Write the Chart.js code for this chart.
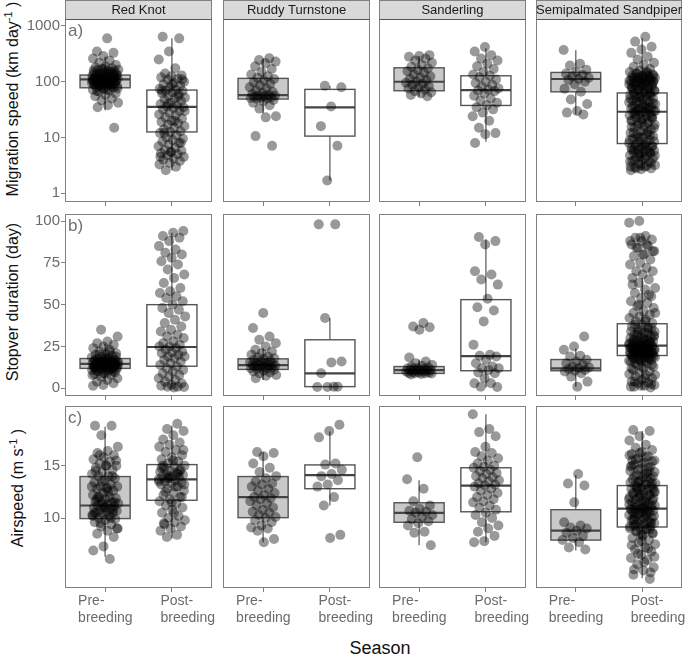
<!DOCTYPE html>
<html>
<head>
<meta charset="utf-8">
<script src="https://cdn.jsdelivr.net/npm/chart.js"></script>
<style>
  body { margin: 0; background: #fff; font-family: "Liberation Sans", Arial, sans-serif; }
  #wrap { position: relative; width: 685px; height: 656px; overflow: hidden; }
  #wrap canvas { position: absolute; }
  .ytitle { position: absolute; transform: translate(-50%, -50%) rotate(-90deg); white-space: nowrap;
            font-size: 16px; line-height: 18px; color: #111; }
  .ytitle sup { font-size: 11px; line-height: 0; }
  #season { position: absolute; left: 380px; top: 648px; transform: translate(-50%, -50%);
            font-size: 18px; color: #111; white-space: nowrap; }
</style>
</head>
<body>
<div id="wrap">
  <div class="ytitle" style="left:13px;top:99px">Migration speed (km day<sup>-1</sup> )</div>
  <div class="ytitle" style="left:13px;top:302px">Stopver duration (day)</div>
  <div class="ytitle" style="left:18px;top:488px">Airspeed (m s<sup>-1</sup> )</div>
  <div id="season">Season</div>
</div>
<script>
const species = ['Red Knot', 'Ruddy Turnstone', 'Sanderling', 'Semipalmated Sandpiper'];
const seasonLabels = [['Pre-', 'breeding'], ['    Post-', '    breeding']];

// box stats per species: [lower whisker, Q1, median, Q3, upper whisker]
const speedBoxPre  = [[31, 78, 110, 132, 280], [27, 49, 57.5, 115, 260], [54, 69, 100, 178, 290], [26, 66, 112, 147, 367]];
const speedBoxPost = [[2.6, 12.6, 35.6, 71, 600], [1.7, 10.6, 34.7, 73, 84], [8.4, 37.6, 71, 128, 398], [2.6, 7.8, 29, 63, 600]];
const stopBoxPre   = [[3.9, 11.9, 14.6, 17.8, 26.7], [5, 11.3, 13.8, 17.6, 23.8], [8, 8.9, 10.9, 13, 17.2], [1, 10.5, 11.9, 17.2, 23.8]];
const stopBoxPost  = [[0, 13.2, 24.7, 50, 93], [1, 1, 8.9, 29, 42], [0.5, 10.5, 19.2, 53, 89], [0, 19.6, 25.5, 38.6, 66]];
const airBoxPre    = [[6.3, 9.95, 11.2, 13.96, 18.7], [7.7, 10.04, 12, 13.96, 16.3], [7.4, 9.6, 10.5, 11.46, 13.6], [6.9, 7.9, 8.8, 10.8, 14.1]];
const airBoxPost   = [[8.05, 11.7, 13.7, 15.1, 18.8], [11.2, 12.8, 14.1, 15.07, 18.25], [7.7, 10.6, 13.1, 14.8, 19.9], [4.25, 9.15, 10.9, 13.1, 18.3]];

// individual birds, migration speed (km/day)
const speedPre = [
  [600, 350, 330, 290, 260, 240, 220, 200, 190, 180, 175, 170, 165, 160, 160, 155, 150, 145, 145, 140, 138, 135, 135, 132, 130, 128, 125, 125, 122, 120, 118, 116, 115, 114, 112, 110, 110, 108, 108, 106, 105, 104, 102, 100, 100, 98, 96, 95, 95, 93, 90, 90, 88, 86, 84, 82, 80, 78, 75, 72, 70, 66, 62, 58, 55, 50, 46, 42, 38, 35, 15,
   170, 160, 150, 140, 130, 125, 120, 115, 112, 108, 104, 100, 96, 92, 88, 84, 80, 76, 72, 68, 140, 120, 105, 95, 85],
  [263, 245, 230, 214, 190, 170, 150, 135, 125, 118, 112, 105, 98, 92, 86, 80, 75, 70, 66, 63, 60, 58, 57, 56, 55, 54, 53, 52, 51, 50, 49, 47, 45, 42, 38, 33, 24, 23, 10.6, 7.1],
  [300, 290, 280, 260, 240, 220, 200, 185, 175, 165, 155, 145, 135, 125, 118, 112, 106, 100, 96, 92, 88, 84, 80, 76, 72, 68, 65, 62, 58, 55],
  [370, 210, 195, 165, 150, 140, 132, 125, 118, 112, 108, 100, 90, 75, 66, 48, 40, 30, 28, 26]
];
const speedPost = [
  [640, 600, 350, 250, 175, 140, 130, 125, 120, 115, 110, 100, 95, 90, 85, 80, 75, 72, 70, 68, 65, 62, 60, 56, 52, 50, 48, 45, 42, 40, 38, 36, 35, 34, 32, 30, 28, 26, 25, 23, 22, 20, 19, 18, 17, 16, 15, 14, 13, 12.5, 12, 11, 10, 9.5, 9, 8.5, 8, 7.5, 7, 6.5, 6, 5.8, 5.5, 5.2, 5, 4.8, 4.5, 4.2, 4, 3.8, 3.5, 3.3, 3, 2.6,
   110, 90, 70, 55, 40, 30, 20, 12, 8, 5.5, 4.5],
  [85, 80, 36, 16, 7.1, 1.7],
  [420, 350, 300, 260, 240, 210, 190, 170, 150, 135, 128, 120, 110, 100, 95, 88, 82, 76, 72, 70, 68, 62, 56, 50, 46, 42, 38, 35, 32, 28, 24, 20, 15, 12, 11.5, 8],
  [640, 525, 425, 380, 330, 280, 250, 220, 200, 186, 170, 160, 150, 145, 140, 135, 130, 128, 125, 120, 118, 115, 112, 110, 108, 105, 105, 100, 100, 98, 95, 95, 92, 90, 88, 85, 82, 80, 78, 75, 72, 70, 68, 65, 63, 60, 58, 55, 52, 50, 48, 46, 44, 42, 40, 38, 36, 35, 34, 33, 32, 31, 30, 29, 28, 27, 26, 25, 24, 23, 22, 21, 20, 19, 18, 17, 16, 15, 14, 13, 12, 11.5, 11, 10.5, 10, 9.5, 9, 8.5, 8, 7.5, 7.2, 7, 6.8, 6.5, 6.2, 6, 5.8, 5.6, 5.4, 5.2, 5, 4.8, 4.6, 4.4, 4.2, 4, 3.8, 3.6, 3.4, 3.2, 3, 2.9, 2.8, 2.7, 2.6,
   150, 140, 130, 125, 120, 115, 110, 105, 100, 95, 90, 85, 80, 76, 72, 68, 64, 60, 56, 53, 50, 47, 44, 41, 38, 36, 34, 32, 30, 28, 26, 24, 22, 20, 18, 16.5, 15, 13.5, 12, 11, 10, 9, 8.2, 7.6, 7, 6.4, 5.9, 5.5, 5.1, 4.7, 4.3, 3.9, 3.5, 3.2, 3, 135, 118, 102, 88, 74, 62, 52, 43, 35, 29, 23, 19, 15.5, 12.5, 10, 8.5, 7.3, 6.1, 5.3, 4.5, 3.7, 3.1, 2.8]
];

// stopover duration (day)
const stopPre = [
  [35, 31, 28, 27, 26, 25, 24, 23, 22, 21, 20.5, 20, 19.5, 19, 18.5, 18, 17.5, 17, 17, 16.5, 16, 16, 16, 15.5, 15.5, 15, 15, 15, 14.8, 14.5, 14.5, 14.2, 14, 14, 14, 13.8, 13.5, 13.5, 13.2, 13, 13, 13, 12.8, 12.5, 12.2, 12, 12, 11.5, 11, 10.5, 10, 9.5, 9, 8.5, 8, 7, 6, 5, 4, 3, 2, 1.5,
   22, 20, 19, 18, 17, 16.5, 16, 15.5, 15, 14.5, 14, 13.5, 13, 12.5, 12, 11.5, 11, 10.5, 10, 9, 8, 17.5, 15.2, 14.2, 13.2, 12.2, 11.2],
  [45, 36, 31, 29, 27, 25, 23, 22, 21, 20, 19, 18.5, 18, 17.5, 17, 16.5, 16, 15.5, 15, 15, 14.5, 14.5, 14, 14, 13.8, 13.5, 13, 13, 12.5, 12.5, 12, 12, 11.5, 11, 10.5, 10, 9.5, 9, 8, 7.5, 6],
  [39, 37, 36.5, 35, 18.4, 16, 15, 14, 13.5, 13, 12.5, 12, 12, 11.5, 11.5, 11, 11, 10.8, 10.5, 10.5, 10, 10, 9.8, 9.5, 9.5, 9.2, 9, 9, 8.8, 8.5, 8.2],
  [31, 25, 23, 19.5, 19, 17, 16, 15, 14, 13, 12.5, 12, 11.5, 11, 10.5, 10, 9, 7, 4, 1]
];
const stopPost = [
  [94, 93, 91, 90, 88, 85, 83, 81, 80, 78, 76, 74, 71, 68, 66, 63, 60, 58, 57, 55, 54, 52, 50, 48, 47, 45, 43, 41, 39, 37, 35, 34, 32, 31, 30, 28, 27, 26, 25, 25, 24, 23, 22, 21.5, 21, 20, 19, 19, 18, 17, 16, 15, 14, 13, 12, 11, 10, 9, 8, 7, 6, 5, 4, 3, 2, 1.5, 1, 1, 0.8, 0.5],
  [98, 98, 42, 16, 15.5, 9, 1, 0.8, 0.8, 1],
  [90.5, 88, 86, 70, 68, 65, 62, 53.5, 48.5, 46.5, 40, 26, 20, 19.5, 19, 17, 15, 13, 12, 12, 11, 9.5, 9, 6, 3, 3, 1, 0.8],
  [100, 99, 91, 90, 89, 88, 86, 85, 84, 82, 80, 79, 77, 75, 74, 72, 70, 70, 68, 66, 65, 63, 60, 59, 57, 55, 54, 52, 51, 49, 48, 46, 45, 44, 43, 42, 41, 40, 39, 38, 37, 36, 35, 34, 33, 32, 31, 30, 30, 29, 29, 28, 28, 27, 27, 26, 26, 25.5, 25, 25, 24.5, 24, 24, 23.5, 23, 23, 22.5, 22, 22, 21.5, 21, 21, 20.5, 20, 20, 19.5, 19, 18.5, 18, 17.5, 17, 16.5, 16, 15, 14, 13, 12, 11, 10, 9, 8.5, 8, 7, 6, 5, 4, 3.5, 3, 2, 1.5, 1, 0.5,
   90, 88, 86, 84, 82, 80, 62, 56, 50, 45, 40, 38, 36, 35, 34, 33, 32, 31, 30, 29, 28, 27.5, 27, 26.5, 26, 25.5, 25, 24.5, 24, 23.5, 23, 22.5, 22, 21.5, 21, 20.5, 20, 19.5, 19, 18.5, 18, 17.5, 17, 16.5, 16, 15, 14, 13, 12, 35.5, 33.5, 31.5, 29.5, 28.5, 26.8, 25.2, 24.2, 23.2, 22.2, 21.2, 20.2, 19.2, 18.2, 17.2, 8, 6, 4, 2.5, 1.5, 1]
];

// airspeed (m/s)
const airPre = [
  [18.8, 18.8, 17.9, 16.8, 16.4, 16.2, 16, 15.8, 15.6, 15.4, 15.2, 15, 15, 14.8, 14.6, 14.4, 14.2, 14, 14, 13.8, 13.6, 13.4, 13.2, 13, 13, 12.9, 12.8, 12.6, 12.4, 12.2, 12, 12, 11.9, 11.8, 11.6, 11.5, 11.5, 11.4, 11.3, 11.2, 11.1, 11, 11, 10.9, 10.8, 10.7, 10.6, 10.5, 10.5, 10.4, 10.3, 10.2, 10, 9.9, 9.8, 9.6, 9.4, 9.2, 9, 8.8, 8.5, 8.2, 7.3, 6.9, 6.1,
   16, 15.5, 15, 14.5, 14, 13.5, 13, 12.5, 12, 11.5, 11, 10.5, 10, 9.5, 9, 12.8, 11.8, 10.8, 11.3, 10.2],
  [16.3, 16.2, 15.9, 15.2, 14.8, 14.4, 14, 13.8, 13.5, 13.3, 13.2, 13, 12.8, 12.6, 12.4, 12.2, 12, 11.9, 11.8, 11.6, 11.4, 11.2, 11, 10.8, 10.6, 10.5, 10.3, 10.1, 10, 9.8, 9.6, 9.3, 9.1, 9, 8.8, 8, 7.7],
  [15.8, 13.7, 12.8, 11.6, 11.2, 10.9, 10.7, 10.6, 10.5, 10.3, 10.1, 9.9, 9.7, 9.5, 9.3, 8.7, 8.6, 7.4],
  [14.2, 13.3, 13.1, 11.5, 9.6, 9.3, 9.1, 9.0, 8.8, 8.6, 8.3, 8.1, 7.9, 7.7, 7.2, 7.0]
];
const airPost = [
  [19, 18.5, 18.3, 17.9, 17.5, 17.2, 17, 16.8, 16.5, 16.3, 16, 15.8, 15.6, 15.4, 15.2, 15, 14.9, 14.8, 14.6, 14.5, 14.4, 14.3, 14.2, 14.1, 14, 14, 13.9, 13.8, 13.7, 13.6, 13.5, 13.4, 13.3, 13.2, 13, 12.8, 12.6, 12.4, 12.2, 12, 11.8, 11.6, 11.4, 11.2, 11, 10.8, 10.5, 10.2, 10, 9.8, 9.6, 9.4, 9.2, 9, 8.8, 8.4, 8.2,
   16.5, 15.5, 15, 14.5, 14, 13.5, 13, 12.5, 12, 11.5, 14.8, 14.2, 13.8, 13.2, 10.5, 9.5],
  [18.9, 18.3, 17.7, 15.2, 15.1, 14.6, 14.2, 14.0, 13.6, 13.2, 13.0, 12.0, 11.2, 8.4, 8.1],
  [19.9, 18.5, 18.2, 17.8, 16.8, 16.3, 16.2, 15.9, 15.7, 15.5, 15.2, 15, 14.9, 14.8, 14.6, 14.5, 14.3, 14.2, 14, 13.9, 13.8, 13.6, 13.5, 13.3, 13.2, 13.1, 13, 12.8, 12.6, 12.4, 12.2, 12, 11.8, 11.6, 11.5, 11.2, 11, 10.8, 10.5, 10.3, 10, 9.6, 9.3, 9, 8.7, 8.3, 7.8, 7.7],
  [18.4, 18.3, 17.8, 17.4, 17, 16.7, 16.5, 16.3, 16.1, 15.9, 15.7, 15.5, 15.3, 15.1, 14.9, 14.7, 14.5, 14.3, 14.1, 14, 13.9, 13.7, 13.5, 13.4, 13.3, 13.2, 13.1, 13, 12.9, 12.8, 12.7, 12.6, 12.5, 12.4, 12.3, 12.2, 12.1, 12, 11.9, 11.8, 11.7, 11.6, 11.5, 11.4, 11.3, 11.2, 11.1, 11, 11, 10.9, 10.9, 10.8, 10.8, 10.7, 10.6, 10.5, 10.5, 10.4, 10.3, 10.2, 10.1, 10, 9.9, 9.8, 9.7, 9.6, 9.5, 9.4, 9.3, 9.2, 9.1, 9, 8.9, 8.7, 8.5, 8.3, 8.1, 7.9, 7.7, 7.5, 7.2, 7, 6.8, 6.5, 6.2, 6, 5.6, 5.3, 5, 4.6, 4.2,
   16.2, 16, 15.8, 15.6, 15.4, 15.2, 15, 14.8, 14.6, 14.4, 14.2, 14, 13.8, 13.6, 13.4, 13.2, 13, 12.8, 12.6, 12.4, 12.2, 12, 11.8, 11.6, 11.4, 11.2, 11, 10.8, 10.6, 10.4, 10.2, 10, 9.8, 9.6, 9.4, 9.2, 9, 8.8, 8.6, 8.4, 15.5, 14.5, 13.5, 12.5, 11.5, 10.5, 9.5, 8.5, 14.9, 13.9, 12.9, 11.9, 10.9, 9.9, 8.9, 12.3, 11.3, 10.3, 9.3, 13.3, 7.8, 7.4, 7.1, 6.6, 6.3, 5.8, 5.1, 4.8]
];

const speedTicks = [1, 10, 100, 1000];
const stopTicks = [0, 25, 50, 75, 100];
const airTicks = [10, 15];

const rows = [
  { pre: speedPre, post: speedPost, boxPre: speedBoxPre, boxPost: speedBoxPost, type: 'logarithmic', min: 0.698, max: 1335, ticks: speedTicks, tag: 'a)' },
  { pre: stopPre, post: stopPost, boxPre: stopBoxPre, boxPost: stopBoxPost, type: 'linear', min: -4.6, max: 104.2, ticks: stopTicks, tag: 'b)' },
  { pre: airPre, post: airPost, boxPre: airBoxPre, boxPost: airBoxPost, type: 'linear', min: 3.33, max: 20.69, ticks: airTicks, tag: 'c)' },
];

// ---- layout of the facet grid ----
const panelLeft = [65, 222, 378, 535];
const panelWidth = [148, 149, 149, 148];
const panelTop = [19, 213, 405];
const panelHeight = 183;
const FONT = '"Liberation Sans", Arial, sans-serif';

// deterministic horizontal spread (golden-ratio sequence), +-0.2 category units
function jitter(i, seed) {
  const h = seed * 0.5773 + i * 0.6180339887;
  return (h - Math.floor(h) - 0.5) * 0.4;
}

const boxPlugin = {
  id: 'boxes',
  beforeDatasetsDraw(chart, args, opts) {
    const { ctx } = chart;
    const x = chart.scales.x, y = chart.scales.y;
    opts.stats.forEach((s, i) => {
      const cx = x.getPixelForValue(i + 1);
      const half = x.getPixelForValue(i + 1.375) - cx;
      const [lo, q1, med, q3, hi] = s.map(v => y.getPixelForValue(v));
      ctx.save();
      ctx.strokeStyle = '#555';
      ctx.lineWidth = 1.2;
      ctx.beginPath();
      ctx.moveTo(cx, hi); ctx.lineTo(cx, q3);
      ctx.moveTo(cx, q1); ctx.lineTo(cx, lo);
      ctx.stroke();
      ctx.fillStyle = i === 0 ? '#c9c9c9' : '#ffffff';
      ctx.fillRect(cx - half, q3, 2 * half, q1 - q3);
      ctx.lineWidth = 1.4;
      ctx.strokeRect(cx - half, q3, 2 * half, q1 - q3);
      ctx.strokeStyle = '#444';
      ctx.lineWidth = 2.2;
      ctx.beginPath();
      ctx.moveTo(cx - half, med); ctx.lineTo(cx + half, med);
      ctx.stroke();
      ctx.restore();
    });
  }
};

const decorPlugin = {
  id: 'decor',
  afterDraw(chart, args, opts) {
    const { ctx, chartArea: a } = chart;
    const l = Math.round(a.left) + 0.5, t = Math.round(a.top) + 0.5;
    const w = Math.round(a.right - a.left) - 1, h = Math.round(a.bottom - a.top) - 1;
    ctx.save();
    ctx.strokeStyle = '#808080';
    ctx.lineWidth = 1;
    ctx.strokeRect(l, t, w, h);
    if (opts.strip) {
      ctx.fillStyle = '#d9d9d9';
      ctx.fillRect(l, 0.5, w, t - 0.5);
      ctx.strokeRect(l, 0.5, w, t - 0.5);
      ctx.strokeStyle = '#555';
      ctx.beginPath(); ctx.moveTo(l, t); ctx.lineTo(l + w, t); ctx.stroke();
      ctx.fillStyle = '#1a1a1a';
      ctx.font = '13px ' + FONT;
      ctx.textAlign = 'center';
      ctx.textBaseline = 'middle';
      ctx.fillText(opts.strip, l + w / 2, t / 2 + 0.5);
    }
    if (opts.tag) {
      ctx.fillStyle = '#707070';
      ctx.font = '17px ' + FONT;
      ctx.textAlign = 'left';
      ctx.textBaseline = 'alphabetic';
      ctx.fillText(opts.tag, a.left + 3, a.top + 17);
    }
    ctx.restore();
  }
};

const wrap = document.getElementById('wrap');

rows.forEach((row, r) => {
  species.forEach((sp, c) => {
    const first = c === 0, last = r === rows.length - 1;
    const padL = first ? 0 : 4;
    const yW = first ? 65 : 0;
    const padT = r === 0 ? 19 : 4;
    const xH = last ? 44 : 6;
    const cv = document.createElement('canvas');
    cv.width = padL + yW + panelWidth[c] + 4;
    cv.height = padT + panelHeight + xH;
    cv.style.left = (panelLeft[c] - padL - yW) + 'px';
    cv.style.top = (panelTop[r] - padT) + 'px';
    wrap.appendChild(cv);

    const pts = [];
    row.pre[c].forEach((v, i) => pts.push({ x: 1 + jitter(i, r * 10 + c * 2 + 1), y: v }));
    row.post[c].forEach((v, i) => pts.push({ x: 2 + jitter(i, r * 10 + c * 2 + 2), y: v }));

    new Chart(cv, {
      type: 'scatter',
      data: {
        datasets: [{
          data: pts,
          backgroundColor: 'rgba(0,0,0,0.4)',
          borderWidth: 0,
          pointRadius: 5,
          pointHoverRadius: 5,
        }],
      },
      plugins: [boxPlugin, decorPlugin],
      options: {
        responsive: false,
        animation: false,
        events: [],
        devicePixelRatio: 1,
        layout: { padding: { left: padL, right: 4, top: padT, bottom: 0 } },
        plugins: {
          legend: { display: false },
          tooltip: { enabled: false },
          boxes: { stats: [row.boxPre[c], row.boxPost[c]] },
          decor: { strip: r === 0 ? sp : null, tag: first ? row.tag : null },
        },
        scales: {
          x: {
            type: 'linear', min: 0.4, max: 2.6,
            afterBuildTicks: s => { s.ticks = [{ value: 1 }, { value: 2 }]; },
            afterFit: s => { s.height = xH; s.paddingLeft = 0; s.paddingRight = 0; },
            grid: { drawOnChartArea: false, tickLength: 4, color: '#808080' },
            border: { display: false },
            ticks: {
              display: last, autoSkip: false, maxRotation: 0, minRotation: 0,
              align: 'start', labelOffset: -27, padding: 0,
              color: '#6b6b6b', font: { family: FONT, size: 14, lineHeight: 1.24 },
              callback: (v, i) => seasonLabels[i],
            },
          },
          y: {
            type: row.type, min: row.min, max: row.max, display: first,
            afterBuildTicks: s => { s.ticks = row.ticks.map(v => ({ value: v })); },
            afterFit: s => { s.width = yW; s.paddingTop = 0; s.paddingBottom = 0; },
            grid: { drawOnChartArea: false, tickLength: 4, color: '#808080' },
            border: { display: false },
            ticks: {
              autoSkip: false, padding: 1, color: '#6b6b6b',
              font: { family: FONT, size: 15 },
              callback: v => String(v),
            },
          },
        },
      },
    });
  });
});
</script>
</body>
</html>
